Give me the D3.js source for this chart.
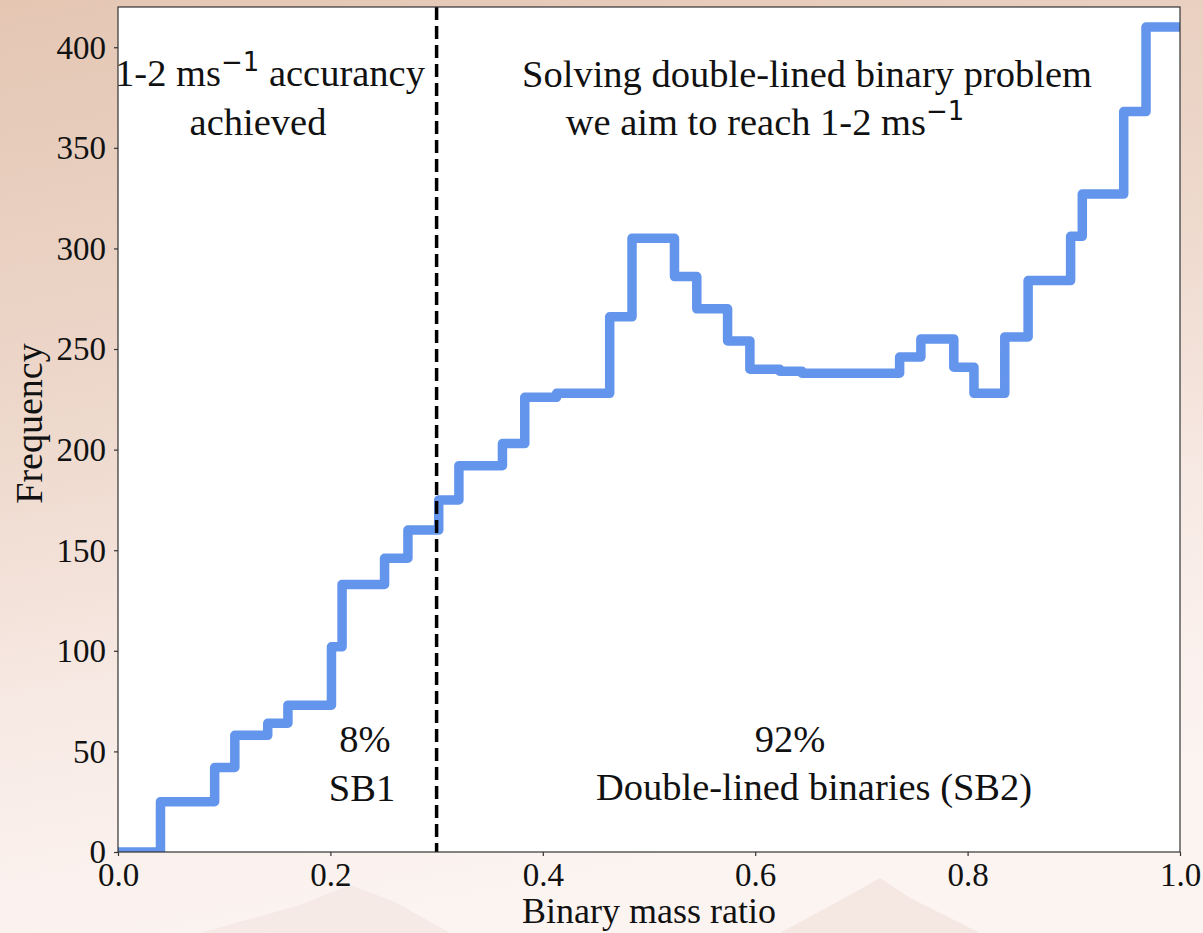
<!DOCTYPE html>
<html>
<head>
<meta charset="utf-8">
<script src="https://cdn.jsdelivr.net/npm/d3@7"></script>
<style>
  html, body { margin: 0; padding: 0; }
  body { width: 1203px; height: 933px; overflow: hidden; }
  svg { display: block; }
</style>
</head>
<body>
<svg id="chart" width="1203" height="933"></svg>
<script>
// ---- data ----
const binEdges = [0.0, 0.04, 0.091, 0.11, 0.141, 0.16, 0.201, 0.211, 0.251, 0.273, 0.302,
  0.321, 0.362, 0.383, 0.413, 0.463, 0.484, 0.524, 0.545, 0.574, 0.595, 0.623, 0.644,
  0.736, 0.756, 0.787, 0.806, 0.835, 0.857, 0.897, 0.908, 0.947, 0.968, 1.0];
const counts = [0, 25, 42, 58, 64, 73, 102, 133, 146, 160, 175, 192, 203, 226, 228, 266,
  305, 286, 270, 254, 240, 239, 238, 246, 255, 241, 228, 256, 284, 306, 327, 368, 410];
const xTicks = [0.0, 0.2, 0.4, 0.6, 0.8, 1.0];
const yTicks = [0, 50, 100, 150, 200, 250, 300, 350, 400];
const splitValue = 0.3;
const xLabel = "Binary mass ratio";
const yLabel = "Frequency";

const svg = d3.select("#chart");
const W = 1203, H = 933;
const m = { left: 118, right: 1180, top: 7, bottom: 852 };

// background gradient
const defs = svg.append("defs");
const bg = defs.append("linearGradient").attr("id", "bg")
  .attr("x1", "0").attr("y1", "0").attr("x2", "0.25").attr("y2", "1");
bg.append("stop").attr("offset", "0%").attr("stop-color", "#e4c6b3");
bg.append("stop").attr("offset", "45%").attr("stop-color", "#eed9cd");
bg.append("stop").attr("offset", "75%").attr("stop-color", "#f8ebe6");
bg.append("stop").attr("offset", "100%").attr("stop-color", "#fcf4f1");
svg.append("rect").attr("width", W).attr("height", H).attr("fill", "url(#bg)");
// faint mountain silhouettes near the bottom
svg.append("path").attr("d", "M200,933 L300,905 L350,885 L395,902 L450,933 Z")
  .attr("fill", "#f2e3df").attr("opacity", 0.6);
svg.append("path").attr("d", "M780,933 L850,895 L880,878 L910,898 L980,933 Z")
  .attr("fill", "#f0dfdb").attr("opacity", 0.6);

defs.append("clipPath").attr("id", "plotclip").append("rect")
  .attr("x", m.left).attr("y", m.top).attr("width", m.right - m.left).attr("height", m.bottom - m.top);

const x = d3.scaleLinear().domain([0, 1]).range([m.left, m.right]);
const y = d3.scaleLinear().domain([0, 420]).range([m.bottom, m.top]);

// plot area
svg.append("rect").attr("x", m.left).attr("y", m.top)
  .attr("width", m.right - m.left).attr("height", m.bottom - m.top).attr("fill", "#ffffff");

// step histogram
const pts = counts.map((c, i) => [binEdges[i], c]);
pts.push([binEdges[binEdges.length - 1], counts[counts.length - 1]]);
const line = d3.line().x(d => x(d[0])).y(d => y(d[1])).curve(d3.curveStepAfter);
svg.append("path").datum(pts)
  .attr("clip-path", "url(#plotclip)")
  .attr("d", line)
  .attr("fill", "none")
  .attr("stroke", "#6495ed")
  .attr("stroke-width", 9.5)
  .attr("stroke-linejoin", "round");

// dashed separator
svg.append("line")
  .attr("x1", x(splitValue)).attr("x2", x(splitValue))
  .attr("y1", y.range()[1]).attr("y2", y.range()[0])
  .attr("stroke", "#000").attr("stroke-width", 3.5).attr("stroke-dasharray", "13,6");

// frame
svg.append("rect").attr("x", m.left).attr("y", m.top)
  .attr("width", m.right - m.left).attr("height", m.bottom - m.top)
  .attr("fill", "none").attr("stroke", "#333").attr("stroke-width", 1.2);

const serif = "'Liberation Serif', 'Times New Roman', serif";

// axes
const xAxis = d3.axisBottom(x).tickValues(xTicks).tickFormat(d3.format(".1f")).tickSize(4).tickPadding(6);
const gx = svg.append("g").attr("transform", `translate(0,${m.bottom})`).call(xAxis);
const yAxis = d3.axisLeft(y).tickValues(yTicks).tickFormat(d3.format("d")).tickSize(4).tickPadding(8);
const gy = svg.append("g").attr("transform", `translate(${m.left},0)`).call(yAxis);
[gx, gy].forEach(g => {
  g.select(".domain").remove();
  g.selectAll(".tick line").attr("stroke", "#333").attr("stroke-width", 1.2);
  g.selectAll(".tick text").attr("font-family", serif).attr("font-size", 33).attr("fill", "#111");
});
gx.selectAll(".tick text").attr("dy", "0.72em");
gy.selectAll(".tick text").attr("dy", "0.33em");

// axis labels
svg.append("text").attr("x", (m.left + m.right) / 2).attr("y", 923)
  .attr("text-anchor", "middle").attr("font-family", serif).attr("font-size", 36).attr("fill", "#111")
  .text(xLabel);
svg.append("text").attr("transform", `translate(42,${(m.top + m.bottom) / 2 - 6}) rotate(-90)`)
  .attr("text-anchor", "middle").attr("font-family", serif).attr("font-size", 38).attr("fill", "#111")
  .text(yLabel);

// annotations
function ann(cx, by, parts) {
  const t = svg.append("text").attr("x", cx).attr("y", by).attr("text-anchor", "middle")
    .attr("font-family", serif).attr("font-size", 38.5).attr("fill", "#111");
  let lift = 0;
  parts.forEach(p => {
    if (p.sup) {
      t.append("tspan").attr("font-family", "'DejaVu Sans', sans-serif").attr("font-size", 26)
        .attr("dy", -15).text(p.sup);
      lift = 15;
    } else {
      const s = t.append("tspan").text(p.t);
      if (lift) { s.attr("dy", lift); lift = 0; }
    }
  });
  return t;
}
ann(270, 86, [{ t: "1-2 ms" }, { sup: "\u22121" }, { t: " accurancy" }]);
ann(258, 135, [{ t: "achieved" }]);
ann(807, 87, [{ t: "Solving double-lined binary problem" }]);
ann(765, 135, [{ t: "we aim to reach 1-2 ms" }, { sup: "\u22121" }]);
ann(365, 752, [{ t: "8%" }]);
ann(362, 801, [{ t: "SB1" }]);
ann(790, 752, [{ t: "92%" }]);
ann(814, 800, [{ t: "Double-lined binaries (SB2)" }]);
</script>
</body>
</html>
